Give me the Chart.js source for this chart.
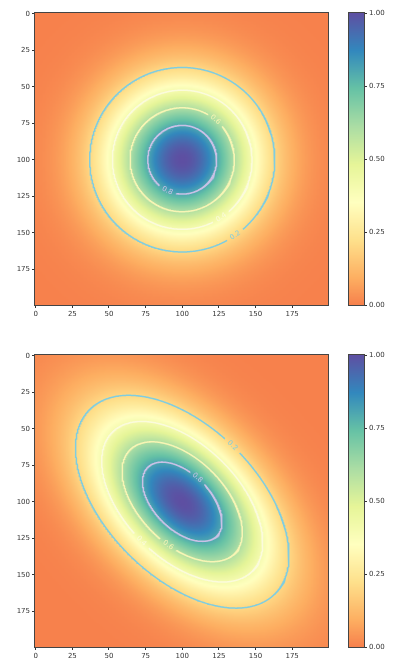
<!DOCTYPE html>
<html>
<head>
<meta charset="utf-8">
<script src="https://cdn.jsdelivr.net/npm/chart.js@4.4.0/dist/chart.umd.min.js"></script>
<style>
body { margin:0; background:#fff; width:397px; height:670px; position:relative; overflow:hidden; }
canvas { position:absolute; }
</style>
</head>
<body>
<canvas id="heat1" width="340" height="330" style="left:0;top:0"></canvas>
<canvas id="bar1" width="57" height="330" style="left:340px;top:0"></canvas>
<canvas id="heat2" width="340" height="330" style="left:0;top:342px"></canvas>
<canvas id="bar2" width="57" height="330" style="left:340px;top:342px"></canvas>
<script>
// two gaussians on a 200x200 grid
var gridSize = 200;
var centre1 = [100, 100];
var cov1 = [1240, 0, 0, 1240];      // round one, sigma ~35
var centre2 = [100, 100];
var cov2 = [1650, 830, 830, 1650];  // tilted one, rho ~0.5
var contourLevels = [0.2, 0.4, 0.6, 0.8];
var axisTicks = [0, 25, 50, 75, 100, 125, 150, 175];
var colorbarTicks = [0, 0.25, 0.5, 0.75, 1];

// where the inline contour labels sit (data coords), same order as contourLevels
var labelSpots1 = [[136, 151], [127, 140], [123, 72], [90, 121]];
var labelSpots2 = [[135, 61], [72, 127], [91, 129], [111, 83]];
var contourColours = ['#7fcde0', '#fbfbdc', '#f7f5b4', '#c9c1e6'];

Chart.defaults.font.family = 'DejaVu Sans';
Chart.defaults.font.size = 7;
Chart.defaults.color = '#333';

// Spectral, with the dark red end cut off
var spectral = ['#9e0142','#d53e4f','#f46d43','#fdae61','#fee08b','#ffffbf','#e6f598','#abdda4','#66c2a5','#3288bd','#5e4fa2'];
var spectralRgb = spectral.map(function(h) {
	return [parseInt(h.substr(1,2),16), parseInt(h.substr(3,2),16), parseInt(h.substr(5,2),16)];
});
function colour(v) {
	v = Math.max(0, Math.min(1, v));
	var p = (0.23 + 0.77 * v) * 10;
	var i = Math.min(9, Math.floor(p));
	var f = p - i;
	var a = spectralRgb[i], b = spectralRgb[i + 1];
	return [a[0] + (b[0]-a[0])*f, a[1] + (b[1]-a[1])*f, a[2] + (b[2]-a[2])*f];
}

function gauss(centre, cov, x, y) {
	var dx = x - centre[0], dy = y - centre[1];
	var det = cov[0]*cov[3] - cov[1]*cov[2];
	var q = (cov[3]*dx*dx - (cov[1]+cov[2])*dx*dy + cov[0]*dy*dy) / det;
	return Math.exp(-0.5 * q);
}

function makeImage(centre, cov) {
	var c = document.createElement('canvas');
	c.width = gridSize; c.height = gridSize;
	var cx = c.getContext('2d');
	var img = cx.createImageData(gridSize, gridSize);
	for (var j = 0; j < gridSize; j++) {
		for (var i = 0; i < gridSize; i++) {
			var rgb = colour(gauss(centre, cov, i, j));
			var k = (j*gridSize + i) * 4;
			img.data[k] = rgb[0]; img.data[k+1] = rgb[1]; img.data[k+2] = rgb[2]; img.data[k+3] = 255;
		}
	}
	cx.putImageData(img, 0, 0);
	return c;
}

// level set of the gaussian is an ellipse; leave a gap where the label goes
function contour(centre, cov, level, spot) {
	var k = Math.sqrt(-2 * Math.log(level));
	var l11 = Math.sqrt(cov[0]), l21 = cov[2] / l11, l22 = Math.sqrt(cov[3] - l21*l21);
	var n = 720, pts = [];
	for (var i = 0; i < n; i++) {
		var t = i / n * 2 * Math.PI, u = Math.cos(t), v = Math.sin(t);
		pts.push({x: centre[0] + k*l11*u, y: centre[1] + k*(l21*u + l22*v)});
	}
	var best = 0, bd = 1e9;
	pts.forEach(function(p, i) {
		var d = Math.hypot(p.x - spot[0], p.y - spot[1]);
		if (d < bd) { bd = d; best = i; }
	});
	var anchor = pts[best];
	var out = [];
	for (var j = 0; j <= n; j++) {
		var p = pts[(best + j) % n];
		if (Math.hypot(p.x - anchor.x, p.y - anchor.y) > 6.5) out.push(p);
	}
	return {line: out, anchor: anchor, prev: pts[(best - 4 + n) % n], next: pts[(best + 4) % n]};
}

var framePlugin = {
	id: 'frame',
	afterDraw: function(chart) {
		var a = chart.chartArea, ctx = chart.ctx;
		ctx.save();
		ctx.strokeStyle = '#444';
		ctx.lineWidth = 1;
		ctx.strokeRect(Math.round(a.left) - 0.5, Math.round(a.top) - 0.5, Math.round(a.right - a.left) + 1, Math.round(a.bottom - a.top) + 1);
		ctx.restore();
	}
};

function heatChart(id, centre, cov, spots) {
	var image = makeImage(centre, cov);
	var contours = contourLevels.map(function(l, i) { return contour(centre, cov, l, spots[i]); });
	var datasets = contours.map(function(c, i) {
		return {
			label: String(contourLevels[i]),
			data: c.line,
			showLine: true,
			borderColor: contourColours[i],
			borderWidth: 1.5,
			pointRadius: 0,
			pointHoverRadius: 0,
			fill: false
		};
	});
	var heatPlugin = {
		id: 'heat',
		beforeDatasetsDraw: function(chart) {
			var xs = chart.scales.x, ys = chart.scales.y, ctx = chart.ctx;
			var x0 = xs.getPixelForValue(-0.5), x1 = xs.getPixelForValue(gridSize - 0.5);
			var y0 = ys.getPixelForValue(-0.5), y1 = ys.getPixelForValue(gridSize - 0.5);
			ctx.save();
			ctx.imageSmoothingEnabled = true;
			ctx.drawImage(image, x0, y0, x1 - x0, y1 - y0);
			ctx.restore();
		},
		afterDatasetsDraw: function(chart) {
			var xs = chart.scales.x, ys = chart.scales.y, ctx = chart.ctx;
			ctx.save();
			ctx.font = '7px "DejaVu Sans"';
			ctx.textAlign = 'center';
			ctx.textBaseline = 'middle';
			contours.forEach(function(c, i) {
				var px = xs.getPixelForValue(c.anchor.x), py = ys.getPixelForValue(c.anchor.y);
				var ang = Math.atan2(ys.getPixelForValue(c.next.y) - ys.getPixelForValue(c.prev.y),
					xs.getPixelForValue(c.next.x) - xs.getPixelForValue(c.prev.x));
				if (ang > Math.PI/2) ang -= Math.PI;
				if (ang < -Math.PI/2) ang += Math.PI;
				ctx.save();
				ctx.translate(px, py);
				ctx.rotate(ang);
				ctx.fillStyle = contourColours[i];
				ctx.fillText(String(contourLevels[i]), 0, 0);
				ctx.restore();
			});
			ctx.restore();
		}
	};
	var axis = function(pos, extra) {
		var s = {
			type: 'linear',
			position: pos,
			min: -0.5,
			max: gridSize - 0.5,
			afterBuildTicks: function(sc) { sc.ticks = axisTicks.map(function(v) { return {value: v}; }); },
			ticks: {autoSkip: false, maxRotation: 0, padding: 2, color: '#333'},
			grid: {drawOnChartArea: false, drawTicks: true, tickLength: 3, color: '#333'},
			border: {display: true, color: '#444'}
		};
		for (var k in extra) s[k] = extra[k];
		return s;
	};
	return new Chart(document.getElementById(id), {
		type: 'scatter',
		data: {datasets: datasets},
		options: {
			responsive: false,
			animation: false,
			events: [],
			layout: {padding: {top: 13, right: 12, left: 0, bottom: 0}},
			plugins: {legend: {display: false}, tooltip: {enabled: false}},
			scales: {
				x: axis('bottom', {afterFit: function(sc) { sc.height = 25; }}),
				y: axis('left', {reverse: true, afterFit: function(sc) { sc.width = 35; }})
			}
		},
		plugins: [heatPlugin, framePlugin]
	});
}

function colorbar(id) {
	var barPlugin = {
		id: 'bar',
		beforeDatasetsDraw: function(chart) {
			var a = chart.chartArea, ys = chart.scales.y, ctx = chart.ctx;
			ctx.save();
			for (var py = Math.floor(a.top); py < a.bottom; py++) {
				var rgb = colour(ys.getValueForPixel(py + 0.5));
				ctx.fillStyle = 'rgb(' + Math.round(rgb[0]) + ',' + Math.round(rgb[1]) + ',' + Math.round(rgb[2]) + ')';
				ctx.fillRect(a.left, py, a.right - a.left, 1);
			}
			ctx.restore();
		}
	};
	return new Chart(document.getElementById(id), {
		type: 'scatter',
		data: {datasets: []},
		options: {
			responsive: false,
			animation: false,
			events: [],
			layout: {padding: {top: 13, left: 9, bottom: 25, right: 0}},
			plugins: {legend: {display: false}, tooltip: {enabled: false}},
			scales: {
				x: {type: 'linear', display: false, min: 0, max: 1},
				y: {
					type: 'linear',
					position: 'right',
					min: 0,
					max: 1,
					afterBuildTicks: function(sc) { sc.ticks = colorbarTicks.map(function(v) { return {value: v}; }); },
					afterFit: function(sc) { sc.width = 33; },
					ticks: {padding: 2, color: '#333', callback: function(v) { return Number(v).toFixed(2); }},
					grid: {drawOnChartArea: false, drawTicks: true, tickLength: 3, color: '#333'},
					border: {display: true, color: '#444'}
				}
			}
		},
		plugins: [barPlugin, framePlugin]
	});
}

heatChart('heat1', centre1, cov1, labelSpots1);
colorbar('bar1');
heatChart('heat2', centre2, cov2, labelSpots2);
colorbar('bar2');
</script>
</body>
</html>
